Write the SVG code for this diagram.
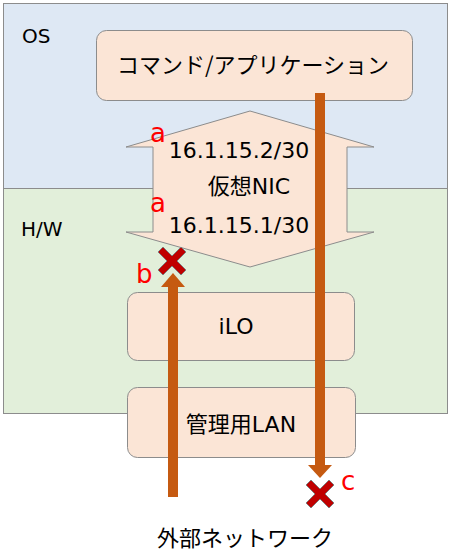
<svg xmlns="http://www.w3.org/2000/svg" width="452" height="552" viewBox="0 0 452 552">
<defs>
<style>
text{font-family:"DejaVu Sans","Noto Sans CJK JP",sans-serif;fill:#000;}
.box{fill:#fbe5d6;stroke:#8c8c8c;stroke-width:1;}
.lbl{font-size:22px;text-anchor:middle;}
.cjk{font-family:"Noto Sans CJK JP",sans-serif;}
.red{fill:#ff0000;font-size:26px;}
.area{stroke:#8c8c8c;stroke-width:1;}
.line{stroke:#c55a11;stroke-width:10;fill:none;}
.head{fill:#c55a11;}
.x{fill:#c00000;stroke:#7f7f7f;stroke-width:1;}
</style>
<path id="xmark" d="M-14,-9 L-9,-14 L0,-5 L9,-14 L14,-9 L5,0 L14,9 L9,14 L0,5 L-9,14 L-14,9 L-5,0 Z"/>
</defs>
<g id="os">
<rect class="area" x="3.5" y="3.5" width="444" height="185" fill="#dee8f4"/>
<text x="22" y="43" style="font-size:20px">OS</text>
</g>
<g id="hw">
<rect class="area" x="3.5" y="188.5" width="444" height="225" fill="#e2efda"/>
<text x="21" y="236" style="font-size:20px">H/W</text>
</g>
<g id="app">
<rect class="box" x="96.5" y="30.5" width="316" height="70" rx="10"/>
<text class="lbl cjk" x="253" y="73">コマンド/アプリケーション</text>
</g>
<g id="vnic">
<polygon class="box" points="250,111 374,147 347,147 347,232 374,232 250,267 126,232 153,232 153,147 126,147"/>
<text class="lbl" x="239" y="158">16.1.15.2/30</text>
<text class="lbl" x="249" y="194">仮想NIC</text>
<text class="lbl" x="239" y="233">16.1.15.1/30</text>
</g>
<g id="ilo">
<rect class="box" x="127.5" y="292.5" width="227" height="68" rx="10"/>
<text class="lbl" x="236" y="334">iLO</text>
</g>
<g id="lan">
<rect class="box" x="127.5" y="387.5" width="228" height="70" rx="10"/>
<text class="lbl" x="241" y="432">管理用LAN</text>
</g>
<g id="external">
<text class="lbl cjk" x="245" y="546">外部ネットワーク</text>
</g>
<g id="connectors">
<line class="line" x1="173" y1="497" x2="173" y2="285"/>
<polygon class="head" points="173,273 185,287 161,287"/>
<line class="line" x1="320" y1="93" x2="320" y2="466"/>
<polygon class="head" points="320,478 332,465 308,465"/>
</g>
<g id="marks">
<use href="#xmark" class="x" x="172" y="261"/>
<use href="#xmark" class="x" x="320" y="494"/>
<text class="red" x="150" y="142">a</text>
<text class="red" x="150" y="212">a</text>
<text class="red" x="136" y="283">b</text>
<text class="red" x="341" y="490">c</text>
</g>
</svg>
